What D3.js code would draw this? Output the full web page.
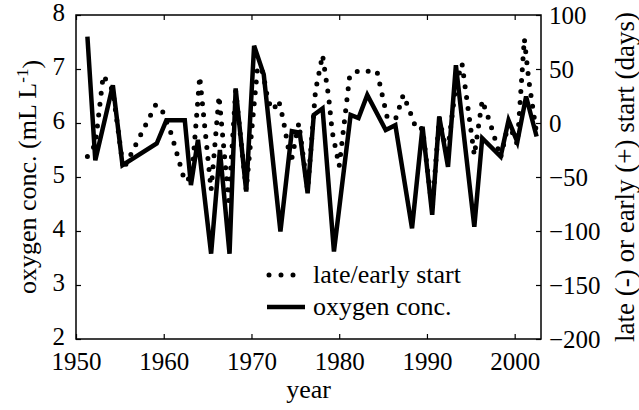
<!DOCTYPE html>
<html>
<head>
<meta charset="utf-8">
<script src="https://cdn.jsdelivr.net/npm/d3@7"></script>
<style>
  body { margin: 0; background: #fff; }
  svg text { font-family: "Liberation Serif", "DejaVu Serif", serif; fill: #000; }
</style>
</head>
<body>
<div id="chartDiv"></div>
<script>
// oxygen conc. (mL L-1), left axis
var oxyYears = [1951.3, 1952.2, 1954.2, 1955.3, 1959.2, 1960.3, 1962.4, 1963.1, 1963.9, 1965.4,
    1966.4, 1967.5, 1968.2, 1969.4, 1970.3, 1971.4, 1973.3, 1974.6, 1975.5, 1976.4,
    1977.1, 1978.1, 1979.4, 1981.3, 1982.2, 1983.2, 1985.3, 1986.4, 1988.3, 1989.5,
    1990.6, 1991.4, 1992.4, 1993.3, 1995.4, 1996.3, 1998.4, 1999.3, 2000.3, 2001.3, 2002.5];
var oxyValues = [7.60, 5.31, 6.70, 5.22, 5.62, 6.05, 6.05, 4.85, 5.69, 3.58,
    5.50, 3.58, 6.64, 4.73, 7.43, 6.90, 3.99, 5.85, 5.82, 4.70,
    6.15, 6.27, 3.62, 6.15, 6.09, 6.52, 5.87, 5.96, 4.05, 5.93,
    4.30, 6.12, 5.19, 7.07, 4.08, 5.72, 5.38, 6.05, 5.65, 6.49, 5.75];

// late/early start (days), right axis
var startYears = [1951.3, 1952.2, 1953.1, 1953.6, 1954.2, 1955.4, 1959.1, 1959.9, 1960.9, 1962.4,
    1963.2, 1964.1, 1965.4, 1966.3, 1967.4, 1968.2, 1969.4, 1970.7, 1971.3, 1971.9,
    1972.5, 1973.1, 1973.6, 1974.5, 1975.4, 1976.4, 1977.3, 1978.1, 1978.8, 1979.2,
    1980.0, 1981.2, 1982.1, 1983.1, 1984.3, 1985.5, 1986.5, 1987.3, 1988.0, 1988.8,
    1989.5, 1990.6, 1991.4, 1992.3, 1993.3, 1994.0, 1995.4, 1996.3, 1997.2, 1998.4,
    1999.3, 2000.3, 2001.1, 2001.6, 2002.5];
var startValues = [-31, -20, 44, 38, 30, -43, 17, 10, -11, -54,
    -50, 43, -62, 25, -72, 30, -62, 52, 47, 20,
    12, 21, 4, -37, 0, -62, 30, 63, 24, -8,
    -40, 44, 48, 48, 48, 4, 5, 26, 12, -6,
    -5, -80, 5, -30, 35, 55, -30, 21, 0, -32,
    0, -20, 78, 40, -10];

var xTicks = [1950, 1960, 1970, 1980, 1990, 2000];
var leftTicks = [2, 3, 4, 5, 6, 7, 8];
var rightTicks = [-200, -150, -100, -50, 0, 50, 100];

var swidth = 639, sheight = 410;
var margin = {top: 15, right: 98, bottom: 71, left: 76};
var width = swidth - margin.left - margin.right,
    height = sheight - margin.top - margin.bottom;

var svg = d3.select("#chartDiv").append("svg")
    .attr("width", swidth)
    .attr("height", sheight);
var g = svg.append("g")
    .attr("transform", "translate(" + margin.left + "," + margin.top + ")");

var x = d3.scaleLinear().domain([1950, 2003]).range([0, width]);
var yL = d3.scaleLinear().domain([2, 8]).range([height, 0]);
var yR = d3.scaleLinear().domain([-200, 100]).range([height, 0]);

// axes, ticks pointing inward
g.append("g")
    .attr("transform", "translate(0," + height + ")")
    .call(d3.axisBottom(x).tickValues(xTicks).tickFormat(d3.format("d"))
        .tickSizeInner(-5).tickSizeOuter(0).tickPadding(13));
g.append("g")
    .call(d3.axisTop(x).tickValues(xTicks).tickFormat("")
        .tickSizeInner(-5).tickSizeOuter(0));
var la = g.append("g")
    .call(d3.axisLeft(yL).tickValues(leftTicks).tickFormat(d3.format("d"))
        .tickSizeInner(-5).tickSizeOuter(0).tickPadding(11));
la.selectAll(".tick text").attr("dy", "0.22em");
g.append("g")
    .attr("transform", "translate(" + width + ",0)")
    .call(d3.axisRight(yR).tickValues(rightTicks).tickFormat(d3.format("d"))
        .tickSizeInner(-5).tickSizeOuter(0).tickPadding(8));

g.selectAll(".domain").remove();
g.selectAll(".tick line").attr("stroke", "#000").attr("stroke-width", 1.2);
g.selectAll(".tick text").style("font-size", "25px");

g.append("rect")
    .attr("width", width)
    .attr("height", height)
    .attr("fill", "none")
    .attr("stroke", "#000")
    .attr("stroke-width", 1.5);

var startData = startYears.map(function(d, i) { return {year: d, v: startValues[i]}; });
var oxyData = oxyYears.map(function(d, i) { return {year: d, v: oxyValues[i]}; });

g.append("path")
    .datum(startData)
    .attr("fill", "none")
    .attr("stroke", "#000")
    .attr("stroke-width", 5)
    .attr("stroke-linecap", "round")
    .attr("stroke-dasharray", "0 11")
    .attr("d", d3.line().x(d => x(d.year)).y(d => yR(d.v)));

g.append("path")
    .datum(oxyData)
    .attr("fill", "none")
    .attr("stroke", "#000")
    .attr("stroke-width", 4.5)
    .attr("stroke-linejoin", "miter")
    .attr("d", d3.line().x(d => x(d.year)).y(d => yL(d.v)));

// legend
var lg = g.append("g").attr("transform", "translate(191,260)");
lg.append("line").attr("x1", 2).attr("x2", 30).attr("y1", 0).attr("y2", 0)
    .attr("stroke", "#000").attr("stroke-width", 5)
    .attr("stroke-linecap", "round").attr("stroke-dasharray", "0 12");
lg.append("line").attr("x1", 0).attr("x2", 38).attr("y1", 32).attr("y2", 32)
    .attr("stroke", "#000").attr("stroke-width", 4.5);
lg.append("text").attr("x", 46).attr("y", 8).style("font-size", "26px").text("late/early start");
lg.append("text").attr("x", 46).attr("y", 40).style("font-size", "26px").text("oxygen conc.");

// axis titles
svg.append("text")
    .attr("x", margin.left + width / 2)
    .attr("y", 398)
    .attr("text-anchor", "middle")
    .style("font-size", "26px")
    .text("year");

var lt = svg.append("text")
    .attr("transform", "translate(36," + (margin.top + height / 2) + ") rotate(-90)")
    .attr("text-anchor", "middle")
    .style("font-size", "26px");
lt.append("tspan").text("oxygen conc. (mL L");
lt.append("tspan").attr("dy", "-0.45em").style("font-size", "17px").text("-1");
lt.append("tspan").attr("dy", "0.45em").text(")");

svg.append("text")
    .attr("transform", "translate(634," + (margin.top + height / 2) + ") rotate(-90)")
    .attr("text-anchor", "middle")
    .style("font-size", "27px")
    .text("late (-) or early (+) start (days)");
</script>
</body>
</html>
